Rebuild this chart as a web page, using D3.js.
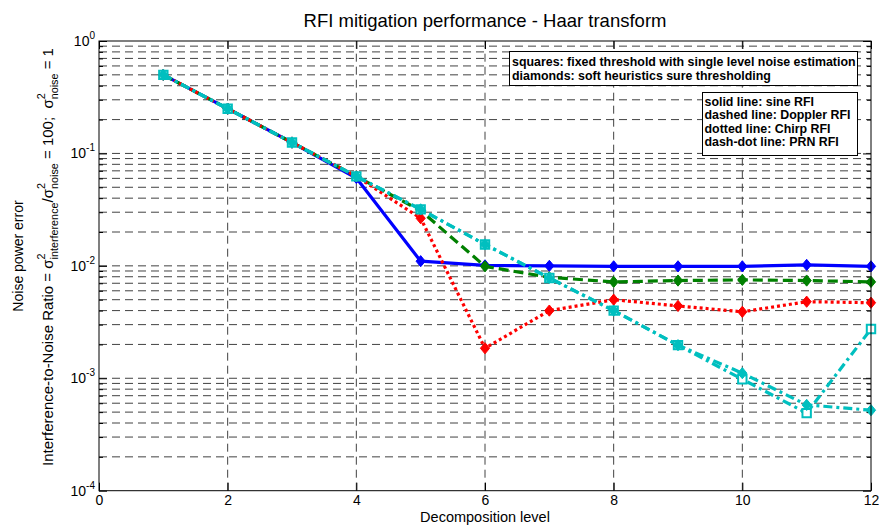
<!DOCTYPE html>
<html>
<head>
<meta charset="utf-8">
<script src="https://cdn.jsdelivr.net/npm/d3@7"></script>
<style>
  body { margin: 0; background: #fff; }
  text { font-family: Arial, "Liberation Sans", Helvetica, sans-serif; fill: #000; }
</style>
</head>
<body>
<svg id="chart" width="879" height="526"></svg>
<script>
// Decomposition levels on the x axis
const levels = [1, 2, 3, 4, 5, 6, 7, 8, 9, 10, 11, 12];

// Noise power error per level (diamonds: soft heuristic SURE thresholding)
const sineDiamonds    = [0.5, 0.25, 0.125, 0.0604, 0.0110, 0.0101, 0.0100, 0.0099, 0.0099, 0.0099, 0.0102, 0.0099];
const dopplerDiamonds = [0.5, 0.25, 0.125, 0.0625, 0.0310, 0.0099, 0.0079, 0.0072, 0.0074, 0.0075, 0.0074, 0.0072];
const chirpDiamonds   = [0.5, 0.25, 0.125, 0.0625, 0.0265, 0.00185, 0.0040, 0.0050, 0.0044, 0.0039, 0.0048, 0.0047];
const prnDiamonds     = [0.5, 0.25, 0.125, 0.0625, 0.0318, 0.0155, 0.0078, 0.0040, 0.00197, 0.00111, 0.00058, 0.00052];
// squares: fixed threshold with single level noise estimation
const prnSquares      = [0.5, 0.25, 0.125, 0.0625, 0.0318, 0.0155, 0.0078, 0.0040, 0.00197, 0.00098, 0.00049, 0.00274];

// Axis ticks
const xTicks = [0, 2, 4, 6, 8, 10, 12];
const yDecadeExponents = [-4, -3, -2, -1, 0];

// Text
const titleText = "RFI mitigation performance - Haar transform";
const xLabelText = "Decomposition level";
const yLabelLine1 = "Noise power error";
const markerLegend = [
  "squares: fixed threshold with single level noise estimation",
  "diamonds: soft heuristics sure thresholding"
];
const lineLegend = [
  "solid line: sine RFI",
  "dashed line: Doppler RFI",
  "dotted line: Chirp RFI",
  "dash-dot line: PRN RFI"
];

const svg = d3.select("#chart");
const L = 99, R = 871, T = 41, B = 490.7;

const x = d3.scaleLinear().domain([0, 12]).range([L, R]);
const y = d3.scaleLog().domain([1e-4, 1]).range([B, T]);

// background
svg.append("rect").attr("width", 879).attr("height", 526).attr("fill", "#fff");

// ----- grid -----
const decades = yDecadeExponents.map(e => Math.pow(10, e));
const minorVals = [];
for (let e = -4; e < 0; e++) {
  for (let k = 2; k <= 9; k++) minorVals.push(k * Math.pow(10, e));
}
const hGrid = minorVals.concat(decades.filter(v => v > 1e-4 && v < 1));
const grid = svg.append("g").attr("stroke", "#222").attr("stroke-width", 1)
  .attr("stroke-dasharray", "8,5").attr("fill", "none").attr("opacity", 0.85);
grid.selectAll("line.h").data(hGrid).join("line").attr("class", "h")
  .attr("x1", L).attr("x2", R).attr("y1", d => y(d)).attr("y2", d => y(d));
grid.selectAll("line.v").data(xTicks.filter(v => v > 0 && v < 12)).join("line").attr("class", "v")
  .attr("x1", d => x(d)).attr("x2", d => x(d)).attr("y1", B).attr("y2", T);

// ----- axes (inward ticks on all four sides) -----
function styleAxis(g) {
  g.select(".domain").remove();
  g.selectAll(".tick line").attr("stroke", "#000");
}
svg.append("g").attr("transform", `translate(0,${B})`)
  .call(d3.axisBottom(x).tickValues(xTicks).tickSizeInner(-8).tickSizeOuter(0).tickPadding(4).tickFormat(d3.format("d")))
  .call(styleAxis)
  .call(g => g.selectAll("text").attr("font-size", 14).attr("font-family", "Arial, 'Liberation Sans', sans-serif"));
svg.append("g").attr("transform", `translate(0,${T})`)
  .call(d3.axisTop(x).tickValues(xTicks).tickSizeInner(-8).tickSizeOuter(0).tickFormat(""))
  .call(styleAxis);
svg.append("g").attr("transform", `translate(${L},0)`)
  .call(d3.axisLeft(y).tickValues(decades).tickSizeInner(-8).tickSizeOuter(0).tickFormat(""))
  .call(styleAxis);
svg.append("g").attr("transform", `translate(${L},0)`)
  .call(d3.axisLeft(y).tickValues(minorVals).tickSizeInner(-4).tickSizeOuter(0).tickFormat(""))
  .call(styleAxis);
svg.append("g").attr("transform", `translate(${R},0)`)
  .call(d3.axisRight(y).tickValues(decades).tickSizeInner(-8).tickSizeOuter(0).tickFormat(""))
  .call(styleAxis);
svg.append("g").attr("transform", `translate(${R},0)`)
  .call(d3.axisRight(y).tickValues(minorVals).tickSizeInner(-4).tickSizeOuter(0).tickFormat(""))
  .call(styleAxis);

// y tick labels: 10 with superscript exponent
const yLab = svg.append("g").attr("text-anchor", "end");
yDecadeExponents.forEach(e => {
  const t = yLab.append("text").attr("x", 95).attr("y", y(Math.pow(10, e)) + 5).attr("font-size", 14);
  t.append("tspan").text("10");
  t.append("tspan").attr("dy", -7).attr("font-size", 10).text(String(e));
});

// ----- series -----
function diamondPath(hw, hh) {
  return `M0,${-hh}L${hw},0L0,${hh}L${-hw},0Z`;
}
const line = d3.line().x((d, i) => x(levels[i])).y(d => y(d));

const series = [
  { values: sineDiamonds,    color: "#0000ff", dash: null,       marker: "diamond" },
  { values: dopplerDiamonds, color: "#008000", dash: "10,5",     marker: "diamond" },
  { values: chirpDiamonds,   color: "#ff0000", dash: "3,3",      marker: "diamond" },
  { values: prnSquares,      color: "#00bfbf", dash: "9,4,3,4",  marker: "square" },
  { values: prnDiamonds,     color: "#00bfbf", dash: "9,4,3,4",  marker: "diamond" }
];

const plot = svg.append("g");
series.forEach(s => {
  plot.append("path").datum(s.values)
    .attr("d", line).attr("fill", "none").attr("stroke", s.color)
    .attr("stroke-width", 3.2).attr("stroke-dasharray", s.dash)
    .attr("stroke-linejoin", "round");
  const m = plot.append("g").selectAll("path").data(s.values).join("path")
    .attr("transform", (d, i) => `translate(${x(levels[i])},${y(d)})`);
  if (s.marker === "diamond") {
    m.attr("d", diamondPath(4.6, 5.6)).attr("fill", s.color).attr("stroke", s.color).attr("stroke-width", 1);
  } else {
    m.attr("d", "M-4.2,-4.2H4.2V4.2H-4.2Z").attr("fill", "#fff").attr("stroke", s.color).attr("stroke-width", 2);
  }
});

// axes box
svg.append("rect").attr("x", L).attr("y", T).attr("width", R - L).attr("height", B - T)
  .attr("fill", "none").attr("stroke", "#000").attr("stroke-width", 1);

// ----- legends -----
function textBox(x0, y0, w, h, lines, baseline0, step, tx) {
  const g = svg.append("g");
  g.append("rect").attr("x", x0).attr("y", y0).attr("width", w).attr("height", h)
    .attr("fill", "#fff").attr("stroke", "#000").attr("stroke-width", 1);
  g.selectAll("text").data(lines).join("text")
    .attr("x", tx).attr("y", (d, i) => baseline0 + i * step)
    .attr("font-size", 12.4).attr("font-weight", "bold").text(d => d);
}
textBox(509.5, 51.5, 348, 34, markerLegend, 66, 14.3, 512);
textBox(702.5, 92.5, 155, 63, lineLegend, 106, 13.3, 704.5);

// ----- title and axis labels -----
svg.append("text").attr("x", 485).attr("y", 26.5).attr("text-anchor", "middle")
  .attr("font-size", 18.5).text(titleText);
svg.append("text").attr("x", 485).attr("y", 522).attr("text-anchor", "middle")
  .attr("font-size", 14.5).text(xLabelText);

svg.append("text").attr("transform", "translate(23,256) rotate(-90)")
  .attr("text-anchor", "middle").attr("font-size", 14).text(yLabelLine1);

// second label line with stacked super/subscripts
const yl2 = svg.append("g").attr("transform", "translate(53,257) rotate(-90)");
const parts = [
  { text: "Interference-to-Noise Ratio = \u03c3" },
  { sup: "2", sub: "interference" },
  { text: "/\u03c3" },
  { sup: "2", sub: "noise" },
  { text: " = 100;  \u03c3" },
  { sup: "2", sub: "noise" },
  { text: " = 1" }
];
const fs = 15;
let pos = 0;
parts.forEach(p => {
  if (p.text !== undefined) {
    const t = yl2.append("text").attr("x", pos).attr("y", 0).attr("font-size", fs)
      .style("white-space", "pre").text(p.text);
    pos += t.node().getComputedTextLength();
  } else {
    const a = yl2.append("text").attr("x", pos).attr("y", -8).attr("font-size", fs * 0.72).text(p.sup);
    const b = yl2.append("text").attr("x", pos).attr("y", 5).attr("font-size", fs * 0.72).text(p.sub);
    pos += Math.max(a.node().getComputedTextLength(), b.node().getComputedTextLength());
  }
});
yl2.selectAll("text").attr("x", function () { return +this.getAttribute("x") - pos / 2; });
</script>
</body>
</html>
